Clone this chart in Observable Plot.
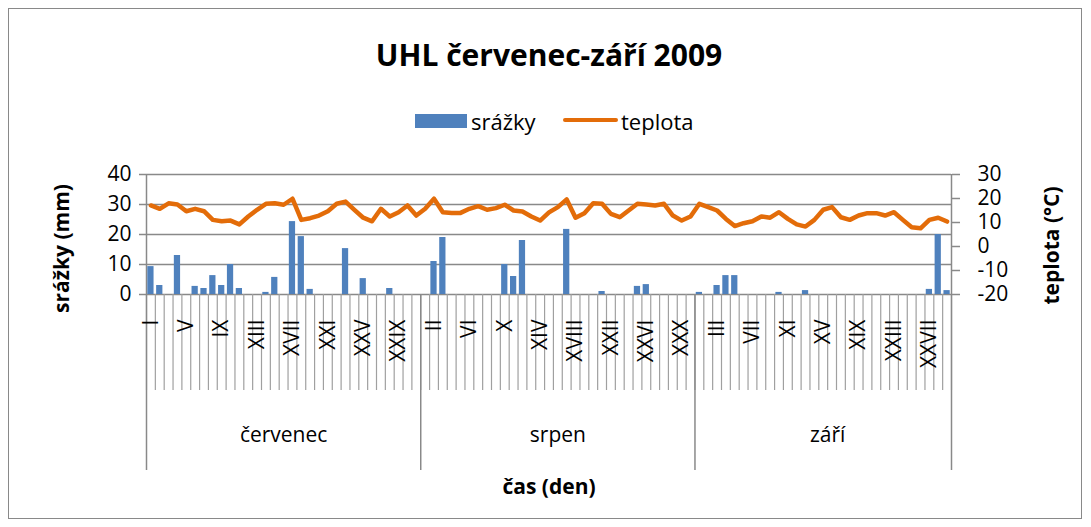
<!DOCTYPE html>
<html>
<head>
<meta charset="utf-8">
<script src="https://cdn.jsdelivr.net/npm/d3@7"></script>
<script src="https://cdn.jsdelivr.net/npm/@observablehq/plot@0.6"></script>
<style>
  html, body { margin: 0; padding: 0; background: #fff; }
  #root { position: relative; width: 1091px; height: 527px; font-family: "Open Sans", Lato, sans-serif; color: #000; overflow: hidden; }
  #frame { position: absolute; left: 8px; top: 8px; width: 1074px; height: 511px; box-sizing: border-box; border: 1px solid #898989; }
  #title { position: absolute; left: 0; top: 37px; width: 1098px; text-align: center; font-size: 30px; line-height: 36px; font-weight: bold; }
  .lg { position: absolute; font-size: 22px; line-height: 26px; white-space: nowrap; }
  #chart { position: absolute; left: 0; top: 150px; }
</style>
</head>
<body>
<div id="root">
  <div id="frame"></div>
  <div id="title"></div>
  <div id="sw1" style="position:absolute;left:415px;top:114px;width:52px;height:14px;background:#4F81BD"></div>
  <div id="lt1" class="lg" style="left:471px;top:108px"></div>
  <div id="sw2" style="position:absolute;left:563px;top:118px;width:55px;height:4px;border-radius:2px;background:#E36C09"></div>
  <div id="lt2" class="lg" style="left:621px;top:108px"></div>
  <div id="chart"></div>
</div>
<script>
// ---- data ----
const titleText = "UHL červenec-září 2009";
const seriesNames = ["srážky", "teplota"];
const months = ["červenec", "srpen", "září"];
const monthLengths = [31, 31, 30];
const dayTickLabels = ["I","V","IX","XIII","XVII","XXI","XXV","XXIX",
                       "II","VI","X","XIV","XVIII","XXII","XXVI","XXX",
                       "III","VII","XI","XV","XIX","XXIII","XXVII"];
const precipTicks = [0, 10, 20, 30, 40];
const tempTicks = [-20, -10, 0, 10, 20, 30];
const yTitleLeft = "srážky (mm)";
const yTitleRight = "teplota (°C)";
const xTitle = "čas (den)";

// precipitation, mm (1.7. – 30.9.)
const precip = [
  9.3, 3, 0, 13, 0, 2.7, 2, 6.3, 3, 10, 2, 0, 0, 0.7, 5.7, 0, 24.3, 19.3, 1.7, 0, 0, 0, 15.3, 0, 5.3, 0, 0, 2, 0, 0, 0,
  0, 11, 19, 0, 0, 0, 0, 0, 0, 10, 6, 18, 0, 0, 0, 0, 21.7, 0, 0, 0, 1, 0, 0, 0, 2.7, 3.3, 0, 0, 0, 0, 0,
  0.7, 0, 3, 6.3, 6.3, 0, 0, 0, 0, 0.7, 0, 0, 1.3, 0, 0, 0, 0, 0, 0, 0, 0, 0, 0, 0, 0, 0, 1.7, 20, 1.3
];
// temperature, °C
const temp = [
  17.1, 15.7, 18.0, 17.5, 14.7, 15.7, 14.7, 11.1, 10.5, 10.8, 9.2, 12.5, 15.3, 17.8, 18.0, 17.4, 19.9, 11.1, 11.8, 12.9, 14.7, 17.8, 18.7, 15.3, 12.0, 10.5, 15.7, 12.5, 14.3, 17.1, 12.9,
  15.7, 19.9, 14.3, 14.0, 14.0, 15.7, 16.8, 15.3, 16.0, 17.4, 15.0, 14.6, 12.5, 10.8, 14.2, 16.4, 19.6, 12.0, 13.9, 18.0, 17.8, 13.6, 12.2, 15.0, 17.8, 17.5, 17.1, 17.8, 12.9, 10.8, 12.5,
  17.8, 16.4, 15.0, 11.5, 8.5, 9.7, 10.5, 12.5, 12.0, 14.3, 11.5, 9.2, 8.3, 11.1, 15.3, 16.4, 12.2, 11.1, 12.9, 13.9, 13.9, 12.9, 14.3, 11.1, 8.0, 7.6, 11.1, 12.0, 10.4, 8.0
];

// ---- build ----
document.getElementById("title").textContent = titleText;
document.getElementById("lt1").textContent = seriesNames[0];
document.getElementById("lt2").textContent = seriesNames[1];

const nDays = precip.length;
const days = d3.range(nDays).map(i => ({i, p: precip[i], t: temp[i]}));
// map temperature axis (-20..30) onto precipitation axis (0..40)
const pMin = 0, pMax = 40, tMin = -20, tMax = 30;
const t2p = t => pMin + (t - tMin) * (pMax - pMin) / (tMax - tMin);

const starts = monthLengths.map((_, k) => d3.sum(monthLengths.slice(0, k)));
const monthData = months.map((m, k) => ({m, mid: starts[k] + monthLengths[k] / 2}));
const boundaries = [...starts, nDays];
const labelDays = dayTickLabels.map((lab, k) => ({lab, i: k * 4}));

const grey = "#898989";
const font = "'Open Sans', Lato, sans-serif";
const chart = Plot.plot({
  width: 1091,
  height: 360,
  marginTop: 24,
  marginBottom: 216,
  marginLeft: 146,
  marginRight: 140,
  style: {fontFamily: font, fontSize: "21px", color: "#000", background: "transparent", overflow: "visible"},
  x: {type: "linear", domain: [0, nDays]},
  y: {domain: [pMin, pMax]},
  marks: [
    Plot.gridY(precipTicks, {stroke: grey, strokeOpacity: 1, strokeWidth: 1.5}),
    Plot.ruleX([0, nDays], {stroke: grey, strokeWidth: 1.5}),
    // day separator ticks below the axis
    Plot.axisX(d3.range(nDays + 1), {anchor: "bottom", tickSize: 96, tickFormat: () => "", stroke: "#a0a0a0", strokeWidth: 1.2, label: null}),
    // month separators
    Plot.axisX(boundaries, {anchor: "bottom", tickSize: 176, tickFormat: () => "", stroke: grey, strokeWidth: 1.5, label: null}),
    Plot.axisY(precipTicks, {anchor: "left", tickSize: 7, tickPadding: 8, stroke: grey, strokeWidth: 1.5, label: null}),
    Plot.axisY(tempTicks.map(t2p), {anchor: "right", tickSize: 8, tickFormat: () => "", stroke: grey, strokeWidth: 1.5, label: null}),
    Plot.text(tempTicks, {x: nDays, y: t2p, text: d => String(d), textAnchor: "start", dx: 26, lineAnchor: "middle", fontSize: 21}),
    Plot.rectY(days, {x1: d => d.i, x2: d => d.i + 1, y: "p", fill: "#4F81BD", insetLeft: 1.3, insetRight: 1.3}),
    Plot.line(days, {x: d => d.i + 0.5, y: d => t2p(d.t), stroke: "#E36C09", strokeWidth: 4.5, strokeLinejoin: "round", strokeLinecap: "round"}),
    Plot.text(labelDays, {x: d => d.i + 0.5, text: "lab", frameAnchor: "bottom", dy: 25, rotate: -90, textAnchor: "end", lineAnchor: "middle", fontSize: 21}),
    Plot.text(monthData, {x: "mid", text: "m", frameAnchor: "bottom", dy: 141, lineAnchor: "middle", fontSize: 21}),
    Plot.text([xTitle], {frameAnchor: "bottom", dy: 193, textAnchor: "middle", lineAnchor: "middle", fontWeight: "bold", fontSize: 21}),
    Plot.text([yTitleLeft], {frameAnchor: "left", dx: -84, dy: 14, rotate: -90, textAnchor: "middle", lineAnchor: "middle", fontWeight: "bold", fontSize: 21}),
    Plot.text([yTitleRight], {frameAnchor: "right", dx: 101, dy: 11, rotate: -90, textAnchor: "middle", lineAnchor: "middle", fontWeight: "bold", fontSize: 21})
  ]
});
document.getElementById("chart").appendChild(chart);
</script>
</body>
</html>
